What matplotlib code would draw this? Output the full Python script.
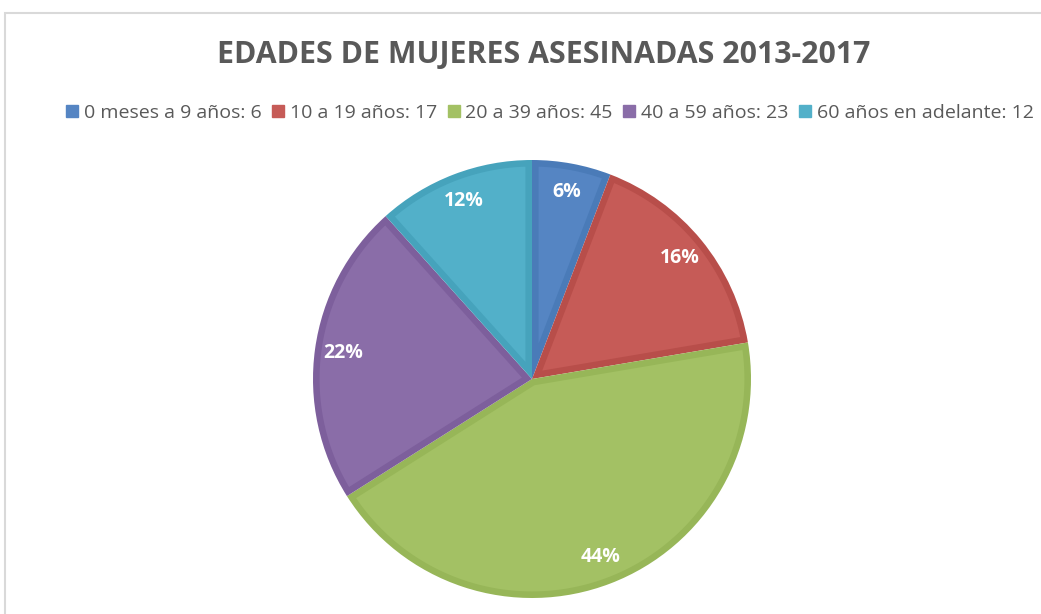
import matplotlib.pyplot as plt
from matplotlib.patches import Patch, Rectangle, Polygon
import numpy as np

# Data
categories = ["0 meses a 9 años", "10 a 19 años", "20 a 39 años", "40 a 59 años", "60 años en adelante"]
counts = [6, 17, 45, 23, 12]
pct_labels = ["6%", "16%", "44%", "22%", "12%"]

fill_colors = ["#5585C3", "#C65B57", "#A3C164", "#8A6DA8", "#52B0C9"]
edge_colors = ["#4A7BB8", "#B84E4A", "#97B658", "#7D5F9C", "#46A3BC"]


def inset_wedge(center, r, t1, t2, d):
    ''' Polygon of a wedge shrunk by distance d on every side '''
    t1, t2 = np.deg2rad(t1), np.deg2rad(t2)
    half = (t2 - t1) / 2
    mid = t1 + half
    vd = d / np.sin(half)
    vx, vy = center[0] + vd * np.cos(mid), center[1] + vd * np.sin(mid)
    ri = r - d
    da = np.arcsin(d / ri)
    ang = np.linspace(t1 + da, t2 - da, 100)
    pts = [(vx, vy)] + [(center[0] + ri * np.cos(a), center[1] + ri * np.sin(a)) for a in ang]
    return pts


W, H = 1041, 614
fig = plt.figure(figsize=(W / 100, H / 100), dpi=100)
fig.patch.set_facecolor("white")

# light chart frame (top and left edges visible)
fig.patches.append(Rectangle((5 / W, -0.1), 1.2, (H - 13) / H + 0.1, transform=fig.transFigure,
                             fill=False, edgecolor="#d9d9d9", linewidth=1.5))

# pie axes
cx, cy, r = 532, 379, 219
ax = fig.add_axes([(cx - r) / W, (H - cy - r) / H, 2 * r / W, 2 * r / H])
wedges, _ = ax.pie(counts, colors=edge_colors, startangle=90, counterclock=False,
                   radius=1.0, wedgeprops=dict(linewidth=0))

# lighter fill inside a darker border on each slice
for w, fc in zip(wedges, fill_colors):
    pts = inset_wedge(w.center, w.r, w.theta1, w.theta2, 0.03)
    ax.add_patch(Polygon(pts, closed=True, facecolor=fc, edgecolor="none"))

for w, lab in zip(wedges, pct_labels):
    mid = np.deg2rad((w.theta1 + w.theta2) / 2)
    ax.text(0.87 * np.cos(mid), 0.87 * np.sin(mid), lab, ha="center", va="center",
            color="white", fontsize=14, fontweight="bold", family=["Open Sans", "DejaVu Sans"])

ax.set_xlim(-1.0, 1.0)
ax.set_ylim(-1.0, 1.0)
ax.set_aspect("equal")
ax.axis("off")

fig.text(544 / W, 1 - 55 / H, "EDADES DE MUJERES ASESINADAS 2013-2017", ha="center", va="center",
         fontsize=21.8, fontweight="bold", color="#595959", family=["Open Sans", "DejaVu Sans"])

handles = [Patch(facecolor=c, edgecolor=c) for c in fill_colors]
labels = [f"{c}: {v}" for c, v in zip(categories, counts)]
fig.legend(handles, labels, loc="center", bbox_to_anchor=(550 / W, 1 - 113 / H), ncol=5,
           frameon=False, handlelength=0.6, handleheight=0.6, handletextpad=0.3,
           columnspacing=0.55, borderaxespad=0, labelcolor="#595959",
           prop={"family": ["Open Sans", "DejaVu Sans"], "size": 14})

fig.savefig("out.png", dpi=100)
